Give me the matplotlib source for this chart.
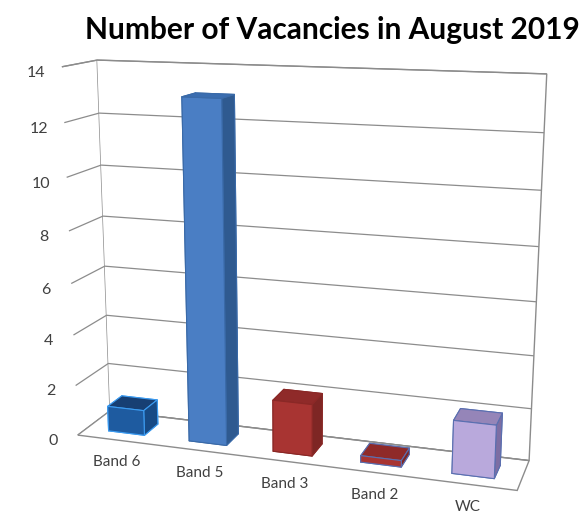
import matplotlib.pyplot as plt
import numpy as np

# chart data
categories = ['Band 6', 'Band 5', 'Band 3', 'Band 2', 'WC']
vacancies = [1, 13, 2, 0, 2]
# face colours per bar: front, top, right side
front_colors = ['#1E5BA0', '#4A7EC4', '#A83432', '#A83432', '#B9A9DC']
top_colors = ['#173F73', '#3A6DB0', '#8F2A29', '#8F2A29', '#9585B8']
side_colors = ['#174A85', '#2F5A90', '#7E2624', '#7E2624', '#7D6EA3']
edge_colors = ['#3C9BF0', '#3A6AA8', '#8A2826', '#5A6FB0', '#5A6FB0']
z_ticks = [0, 2, 4, 6, 8, 10, 12, 14]

plt.rcParams['font.family'] = ['Lato', 'DejaVu Sans']

fig = plt.figure(figsize=(5.81, 5.14), dpi=100)
ax = fig.add_axes([-0.06, -0.056, 1.12, 1.05], projection='3d')
ax.set_proj_type('persp', focal_length=0.45)
ax.view_init(elev=14, azim=-72)
ax.set_box_aspect((4.5, 0.75, 3.75), zoom=1.1)

bw = 0.45
for i, v in enumerate(vacancies):
    h = max(v, 0.25)  # zero-height bars drawn as a thin slab
    # bar3d face order: bottom, top, front, back, left, right
    faces = [front_colors[i], top_colors[i], front_colors[i],
             front_colors[i], side_colors[i], side_colors[i]]
    ax.bar3d(i - bw / 2, 0.5 - bw / 2, 0, bw, bw, h,
             color=faces, edgecolor=edge_colors[i],
             linewidth=0.8, shade=False)

ax.set_xlim(-0.5, len(categories) - 0.5)
ax.set_ylim(0, 1)
ax.set_zlim(0, 14)

ax.set_xticks(range(len(categories)))
ax.set_xticklabels(categories, fontsize=11, color='#404040')
ax.set_yticks([])
ax.set_zticks(z_ticks)
ax.set_zticklabels([str(t) for t in z_ticks], fontsize=11.5, color='#404040')
ax.zaxis.set_ticks_position('lower')
ax.tick_params(axis='x', pad=0)

# only horizontal gridlines on the walls
for axis in (ax.xaxis, ax.yaxis):
    axis._axinfo['grid']['color'] = (1, 1, 1, 0)
ax.zaxis._axinfo['grid']['color'] = '#8c8c8c'
ax.zaxis._axinfo['grid']['linewidth'] = 0.9
for axis in (ax.xaxis, ax.yaxis, ax.zaxis):
    axis.set_pane_color((1, 1, 1, 1))
    axis.pane.set_edgecolor('#8c8c8c')
    axis.line.set_color((1, 1, 1, 0))
    axis._axinfo['tick']['inward_factor'] = 0
    axis._axinfo['tick']['outward_factor'] = 0

fig.suptitle('Number of Vacancies in August 2019', x=0.572, y=0.968,
             fontsize=21.5, fontweight='bold')

fig.savefig('out.png', dpi=100)
